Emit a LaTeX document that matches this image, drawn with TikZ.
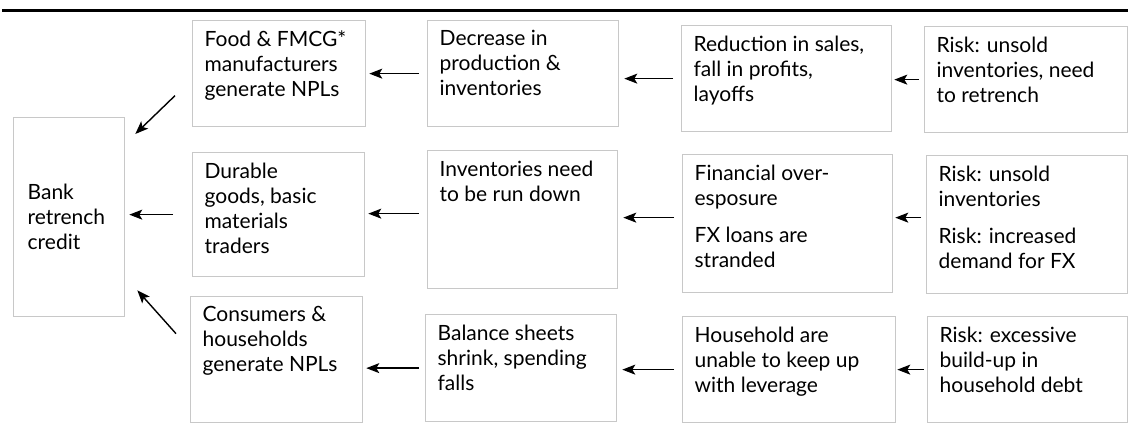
\documentclass[tikz,border=0pt]{standalone}
\usepackage{fontspec}
\setmainfont{Lato}
\usetikzlibrary{arrows.meta}

\definecolor{boxgray}{RGB}{200,200,200}

\newcommand{\celtext}[3]{\begin{minipage}[t][#2pt][t]{\dimexpr#1pt-24pt\relax}\raggedright\vspace*{10pt}#3\end{minipage}}

\tikzset{
  blok/.style={draw=boxgray, line width=1.3pt, anchor=north west, inner xsep=12pt, inner ysep=0pt,
    font=\fontsize{21}{25}\selectfont},
  arr/.style={draw, line width=1.4pt, -{Stealth[length=13pt,width=10pt,inset=3pt]}},
}

\begin{document}
\begin{tikzpicture}[x=1pt,y=-1pt]
        \useasboundingbox (0,0) rectangle (1128,435);
        \draw[line width=3pt] (2,11) -- (1128,11);

        % bank
        \node[blok, inner xsep=14pt, minimum width=111pt, minimum height=199pt, text width=83pt, align=left]
            (bank) at (13,117) {Bank\\retrench\\credit};

        % second column
        \node[blok] (food) at (192,20) {\celtext{173}{106}{Food \& FMCG*\\manufacturers\\generate NPLs}};
        \node[blok] (durable) at (192,152) {\celtext{172}{124}{Durable\\goods, basic\\materials\\traders}};
        \node[blok] (consumers) at (190,296) {\celtext{172}{126}{Consumers \&\\households\\generate NPLs}};

        % third column
        \node[blok] (decrease) at (427,20) {\celtext{191}{106}{Decrease in\\production \&\\inventories}};
        \node[blok] (rundown) at (427,150) {\celtext{190}{138}{Inventories need\\to be run down}};
        \node[blok] (balance) at (425,314) {\celtext{191}{107}{Balance sheets\\shrink, spending\\falls}};

        % fourth column
        \node[blok] (sales) at (681,25) {\celtext{210}{106}{Reduction in sales,\\fall in profits,\\layoffs}};
        \node[blok] (exposure) at (682,154) {\celtext{210}{138}{Financial over-\\esposure\\[12pt]FX loans are\\stranded}};
        \node[blok] (leverage) at (682,316) {\celtext{213}{106}{Household are\\unable to keep up\\with leverage}};

        % risks
        \node[blok] (risk1) at (924,26) {\celtext{203}{106}{Risk: unsold\\inventories, need\\to retrench}};
        \node[blok] (risk2) at (926,155) {\celtext{201}{138}{Risk: unsold\\inventories\\[12pt]Risk: increased\\demand for FX}};
        \node[blok] (risk3) at (927,316) {\celtext{200}{106}{Risk: excessive\\build-up in\\household debt}};

        % arrows, right to left
        \path[arr, shorten <=5pt, shorten >=2pt] (risk1.west) -- (risk1.west -| sales.east);
        \path[arr, shorten <=8pt, shorten >=5pt] (sales.west) -- (sales.west -| decrease.east);
        \path[arr, shorten <=8pt, shorten >=3pt] (decrease.west) -- (decrease.west -| food.east);

        \path[arr, shorten <=5pt, shorten >=2pt] ([yshift=7pt]risk2.west) -- ([yshift=7pt]risk2.west -| exposure.east);
        \path[arr, shorten <=8pt, shorten >=5pt] ([yshift=6pt]exposure.west) -- ([yshift=6pt]exposure.west -| rundown.east);
        \path[arr, shorten <=8pt, shorten >=3pt] ([yshift=6pt]rundown.west) -- ([yshift=6pt]rundown.west -| durable.east);

        \path[arr, shorten <=3pt, shorten >=1pt] (risk3.west) -- (risk3.west -| leverage.east);
        \path[arr, shorten <=8pt, shorten >=5pt] (leverage.west) -- (leverage.west -| balance.east);
        \path[arr, shorten <=6pt, shorten >=3pt] (balance.west) -- (balance.west -| consumers.east);

        \path[arr, shorten <=19pt, shorten >=4pt] (durable.west) -- (durable.west -| bank.east);
        \path[arr] ([xshift=-17pt,yshift=-22pt]food.west) -- ([xshift=10pt,yshift=-17pt]bank.north east);
        \path[arr] ([xshift=-14pt,yshift=26pt]consumers.west) -- ([xshift=12pt,yshift=27pt]bank.south east);
\end{tikzpicture}
\end{document}
